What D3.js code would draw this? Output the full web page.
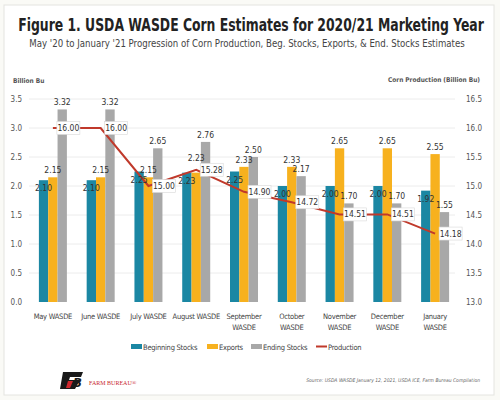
<!DOCTYPE html>
<html><head><meta charset="utf-8">
<script src="https://cdn.jsdelivr.net/npm/d3@7"></script>
<style>
body{margin:0;background:#fafaf6;}
text{font-family:"DejaVu Sans Condensed","Liberation Sans Narrow","Roboto",sans-serif;}
</style></head>
<body><svg id="c" width="500" height="400"></svg>
<script>
const categories = ["May WASDE","June WASDE","July WASDE","August WASDE","September WASDE","October WASDE","November WASDE","December WASDE","January WASDE"];
const beginningStocks = [2.10,2.10,2.25,2.23,2.25,2.00,2.00,2.00,1.92];
const exportsVals = [2.15,2.15,2.15,2.23,2.33,2.33,2.65,2.65,2.55];
const endingStocks = [3.32,3.32,2.65,2.76,2.50,2.17,1.70,1.70,1.55];
const production = [16.00,16.00,15.00,15.28,14.90,14.72,14.51,14.51,14.18];
const leftTicks = [0,0.5,1.0,1.5,2.0,2.5,3.0,3.5];
const rightTicks = [13.0,13.5,14.0,14.5,15.0,15.5,16.0,16.5];
const seriesNames = ["Beginning Stocks","Exports","Ending Stocks","Production"];
const colors = ["#1b87a3","#f7b11e","#a8a8a8","#c0392b"];

const svg = d3.select("#c");
svg.append("rect").attr("x",4).attr("y",5).attr("width",490).attr("height",390)
  .attr("fill","#fff").attr("stroke","#e4e4e0");

// titles, horizontally scaled to fit width
function fitText(cxp, yp, size, weight, fill, str, width){
  const g = svg.append("g");
  const t = g.append("text").attr("x",0).attr("y",0).attr("text-anchor","middle")
    .attr("font-size",size).attr("font-weight",weight).attr("fill",fill).text(str);
  const w = t.node().getComputedTextLength();
  g.attr("transform",`translate(${cxp},${yp}) scale(${Math.min(1,width/w)},1)`);
}
fitText(251,31,18,"bold","#222","Figure 1. USDA WASDE Corn Estimates for 2020/21 Marketing Year",466);
fitText(247,47,10.5,"normal","#444","May '20 to January '21 Progression of Corn Production, Beg. Stocks, Exports, & End. Stocks Estimates",436);

const y = d3.scaleLinear().domain([0,3.5]).range([302,99]);
const y2 = d3.scaleLinear().domain([13,16.5]).range([302,99]);
const x0 = d3.scaleBand().domain(categories).range([29,459]).padding(0);
const x1 = d3.scaleBand().domain([0,1,2]).range([0,28]).padding(0);

// gridlines
svg.append("g").selectAll("line").data(leftTicks.slice(1)).join("line")
  .attr("x1",29).attr("x2",455).attr("y1",d=>y(d)).attr("y2",d=>y(d))
  .attr("stroke","#ececec").attr("stroke-width",1);

// axes
const la = svg.append("g").attr("transform","translate(24,0)")
  .call(d3.axisLeft(y).tickValues(leftTicks).tickFormat(d3.format(".1f")).tickSize(0).tickPadding(2));
la.select(".domain").remove();
la.selectAll("text").attr("font-size",8).attr("fill","#555").attr("font-family",null);
const ra = svg.append("g").attr("transform","translate(464,0)")
  .call(d3.axisRight(y2).tickValues(rightTicks).tickFormat(d3.format(".1f")).tickSize(0).tickPadding(2));
ra.select(".domain").remove();
ra.selectAll("text").attr("font-size",8).attr("fill","#555").attr("font-family",null);

svg.append("text").attr("x",13).attr("y",83).attr("font-size",6.5).attr("font-weight","bold").attr("fill","#555").text("Billion Bu");
svg.append("text").attr("x",480).attr("y",82).attr("text-anchor","end").attr("font-size",6.5).attr("font-weight","bold").attr("fill","#555").text("Corn Production (Billion Bu)");

// bars
const barSeries = [beginningStocks, exportsVals, endingStocks];
const gx = x0.bandwidth()/2 - 14;
const cx = c => x0(c)+x0.bandwidth()/2;
barSeries.forEach((vals,si)=>{
  svg.append("g").selectAll("rect").data(vals).join("rect")
    .attr("x",(d,i)=>x0(categories[i])+gx+x1(si))
    .attr("y",d=>y(d)).attr("width",x1.bandwidth()).attr("height",d=>y(0)-y(d))
    .attr("fill",colors[si]);
});

// production line
const line = d3.line().x((d,i)=>cx(categories[i])).y(d=>y2(d));
svg.append("path").datum(production).attr("d",line).attr("fill","none")
  .attr("stroke",colors[3]).attr("stroke-width",2);

// bar labels (with simple collision avoidance vs production label boxes)
function labelY(si,d,i){
  if(si===0) return y(d)+11;
  let base = y(d)-4;
  const lx = x0(categories[i])+gx+x1(si)+x1.bandwidth()/2;
  const bx = cx(categories[i])+4, by = y2(production[i])-6.5;
  if(lx+8>bx && lx-8<bx+23 && base>by && base-8<by+13) base = by-2;
  return base;
}
barSeries.forEach((vals,si)=>{
  svg.append("g").selectAll("text").data(vals).join("text")
    .attr("x",(d,i)=>x0(categories[i])+gx+x1(si)+x1.bandwidth()/2)
    .attr("y",(d,i)=>labelY(si,d,i))
    .attr("text-anchor","middle").attr("font-size",8.5).attr("fill","#333")
    .text(d=>d.toFixed(2));
});

const pl = svg.append("g").selectAll("g").data(production).join("g")
  .attr("transform",(d,i)=>`translate(${cx(categories[i])+4},${y2(d)})`);
pl.append("rect").attr("x",0).attr("y",-6.5).attr("width",23).attr("height",13)
  .attr("fill","#fff").attr("stroke","#d8d8d8").attr("stroke-width",0.6);
pl.append("text").attr("x",11.5).attr("y",3).attr("text-anchor","middle")
  .attr("font-size",8.5).attr("fill","#333").text(d=>d.toFixed(2));

// category labels
const cl = svg.append("g").selectAll("text").data(categories).join("text")
  .attr("x",d=>cx(d)).attr("y",319).attr("text-anchor","middle")
  .attr("font-size",7.5).attr("letter-spacing",-0.25).attr("fill","#444");
cl.each(function(d){
  const t = d3.select(this);
  if(d.length>12){
    const parts = d.split(" ");
    t.append("tspan").attr("x",cx(d)).attr("dy",0).text(parts[0]);
    t.append("tspan").attr("x",cx(d)).attr("dy",11).text(parts[1]);
  } else t.text(d);
});

// legend
const legX = [131,207,251,316];
seriesNames.forEach((n,i)=>{
  if(i<3) svg.append("rect").attr("x",legX[i]).attr("y",344).attr("width",11).attr("height",5).attr("fill",colors[i]);
  else svg.append("line").attr("x1",legX[i]).attr("x2",legX[i]+11).attr("y1",346.5).attr("y2",346.5).attr("stroke",colors[i]).attr("stroke-width",2);
  svg.append("text").attr("x",legX[i]+12).attr("y",349.5).attr("font-size",7.5).attr("letter-spacing",-0.25).attr("fill","#444").text(n);
});

// footer logo
const lg = svg.append("g").attr("transform","translate(60,372)");
lg.append("path").attr("d","M3,0 L23,0 L21,5 L10,5 L9,8 L20,8 L15,17 L0,17 Z").attr("fill","#1a1a1a");
lg.append("path").attr("d","M8,9 L13,9 L10,16 L6,16 Z").attr("fill","#d0282e");
lg.append("text").attr("x",13).attr("y",15).attr("font-size",13).attr("font-weight","bold").attr("font-style","italic").attr("fill","#1a1a1a").text("B");
svg.append("text").attr("x",89).attr("y",385).attr("font-size",6).attr("fill","#c8282e")
  .attr("style","font-family:'Liberation Serif','DejaVu Serif',serif").text("FARM BUREAU®");
svg.append("text").attr("x",480).attr("y",382).attr("text-anchor","end").attr("font-size",5)
  .attr("font-style","italic").attr("fill","#666")
  .text("Source: USDA WASDE January 12, 2021, USDA ICE, Farm Bureau Compilation");
</script></body></html>
